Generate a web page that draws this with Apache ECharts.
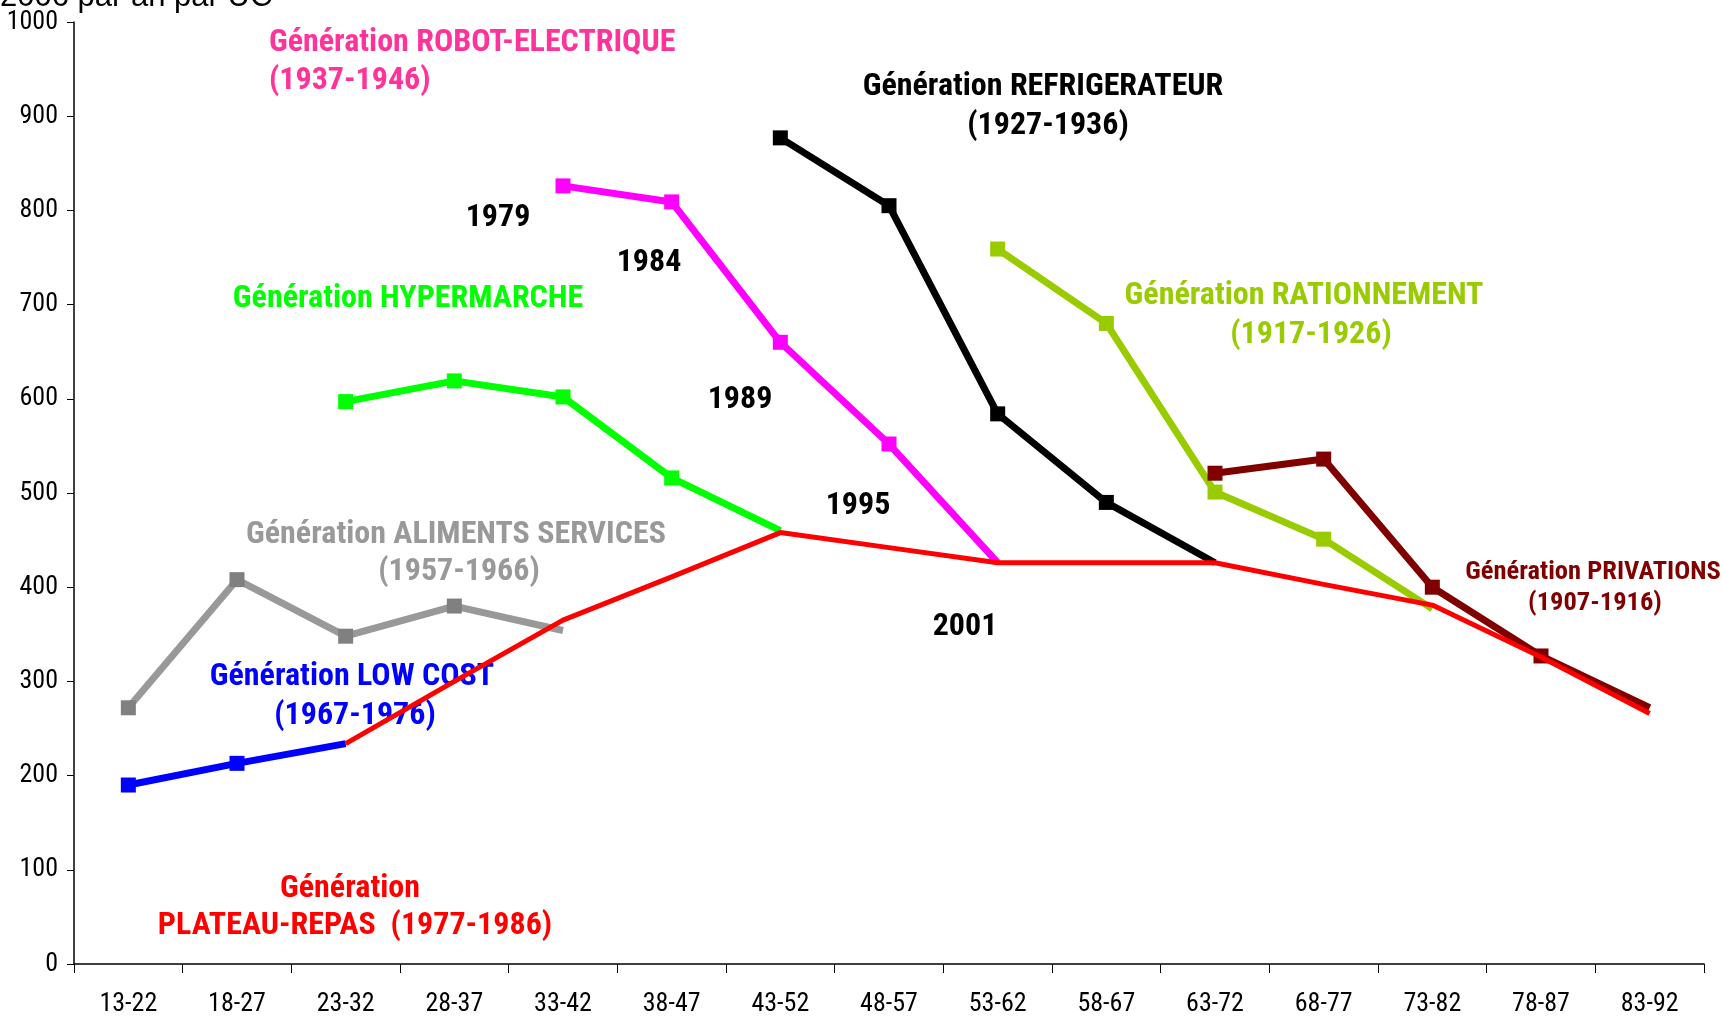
<!DOCTYPE html>
<html><head><meta charset="utf-8">
<script src="https://cdn.jsdelivr.net/npm/echarts@6/dist/echarts.min.js"></script>
<style>html,body{margin:0;padding:0;background:#fff}#c{width:1722px;height:1017px}</style>
</head><body><div id="c"></div>
<script>
const categories = ['13-22','18-27','23-32','28-37','33-42','38-47','43-52','48-57','53-62','58-67','63-72','68-77','73-82','78-87','83-92'];
const yTicks = [0,100,200,300,400,500,600,700,800,900,1000];
// values by category index; null = no point; last value of each generation has no marker
const lowCost       = [190,213,234,null,null,null,null,null,null,null,null,null,null,null,null];
const alimServices  = [272,408,348,380,354,null,null,null,null,null,null,null,null,null,null];
const hypermarche   = [null,null,597,619,602,516,460,null,null,null,null,null,null,null,null];
const robotElec     = [null,null,null,null,826,809,660,552,426,null,null,null,null,null,null];
const refrigerateur = [null,null,null,null,null,null,877,805,584,490,426,null,null,null,null];
const rationnement  = [null,null,null,null,null,null,null,null,759,680,501,451,377,null,null];
const privations    = [null,null,null,null,null,null,null,null,null,null,521,536,400,327,272];
const plateauRepas  = [null,null,234,300,365,411,458,442,426,426,426,403,381,326,266];

const NARROW = '"Liberation Sans Narrow","Arial Narrow","Roboto Condensed",sans-serif';

function withEndNoSymbol(arr){
  let last = -1;
  arr.forEach((v,i)=>{ if(v!==null) last=i; });
  return arr.map((v,i)=> v===null ? null : (i===last ? {value:v, symbol:'none'} : v));
}
function gen(name, arr, color, markerColor){
  return {
    name, type:'line', data: withEndNoSymbol(arr), connectNulls:false,
    symbol:'rect', symbolSize:15, showAllSymbol:true,
    lineStyle:{color, width:7}, itemStyle:{color: markerColor||color},
    emphasis:{disabled:true}, animation:false, z:2
  };
}

const chart = echarts.init(document.getElementById('c'));
const txt = (x,y,text,color,size,align) => ({
  type:'text', x, y: y+3,
  style:{text, fill:color, font:'bold '+size+'px '+NARROW, textAlign:align||'center', textVerticalAlign:'middle'}
});
const S = 32;
chart.setOption({
  animation:false,
  grid:{left:74, right:18, top:22, bottom:53, containLabel:false},
  xAxis:{
    type:'category', data:categories, boundaryGap:true,
    axisLine:{lineStyle:{color:'#000', width:1.5}},
    axisTick:{show:true, length:9, lineStyle:{color:'#000', width:1}, alignWithLabel:false},
    axisLabel:{color:'#000', fontSize:26, fontFamily:NARROW, margin:27}
  },
  yAxis:{
    type:'value', min:0, max:1000, interval:100,
    axisLine:{show:true, lineStyle:{color:'#000', width:1.5}},
    axisTick:{show:true, length:7, lineStyle:{color:'#000'}},
    splitLine:{show:false},
    axisLabel:{color:'#000', fontSize:26, fontFamily:NARROW, margin:16,
      formatter:(v)=> yTicks.includes(v) ? String(v) : ''}
  },
  series:[
    gen('LOW COST', lowCost, '#0000ff'),
    gen('ALIMENTS SERVICES', alimServices, '#999999', '#808080'),
    gen('HYPERMARCHE', hypermarche, '#00ff00'),
    gen('ROBOT-ELECTRIQUE', robotElec, '#ff00ff'),
    gen('REFRIGERATEUR', refrigerateur, '#000000'),
    gen('RATIONNEMENT', rationnement, '#99cc00'),
    gen('PRIVATIONS', privations, '#800000'),
    {name:'PLATEAU-REPAS', type:'line', data:plateauRepas, symbol:'none',
     lineStyle:{color:'#ff0000', width:5}, itemStyle:{color:'#ff0000'}, z:3, animation:false}
  ],
  graphic:[
    {type:'text', x:0, y:-18, style:{text:'2006 par an par UC', fill:'#000', font:'31px "Liberation Sans",Arial,sans-serif'}},
    txt(269,40,'Génération ROBOT-ELECTRIQUE','#ff3399',S,'left'),
    txt(269,78,'(1937-1946)','#ff3399',S,'left'),
    txt(1043,84,'Génération REFRIGERATEUR','#000',S),
    txt(1048,123,'(1927-1936)','#000',S),
    txt(498,215,'1979','#000',S),
    txt(649,260,'1984','#000',S),
    txt(740,397,'1989','#000',S),
    txt(858,503,'1995','#000',S),
    txt(965,624,'2001','#000',S),
    txt(408,296,'Génération HYPERMARCHE','#00ff00',S),
    txt(1304,293,'Génération RATIONNEMENT','#99cc00',S),
    txt(1311,332,'(1917-1926)','#99cc00',S),
    txt(456,532,'Génération ALIMENTS SERVICES','#999999',S),
    txt(459,569,'(1957-1966)','#999999',S),
    txt(352,674,'Génération LOW COST','#0000ff',S),
    txt(355,713,'(1967-1976)','#0000ff',S),
    txt(1593,569,'Génération PRIVATIONS','#800000',26.5),
    txt(1595,600,'(1907-1916)','#800000',26.5),
    txt(350,886,'Génération','#ff0000',S),
    txt(355,923,'PLATEAU-REPAS  (1977-1986)','#ff0000',S)
  ]
});
</script></body></html>
